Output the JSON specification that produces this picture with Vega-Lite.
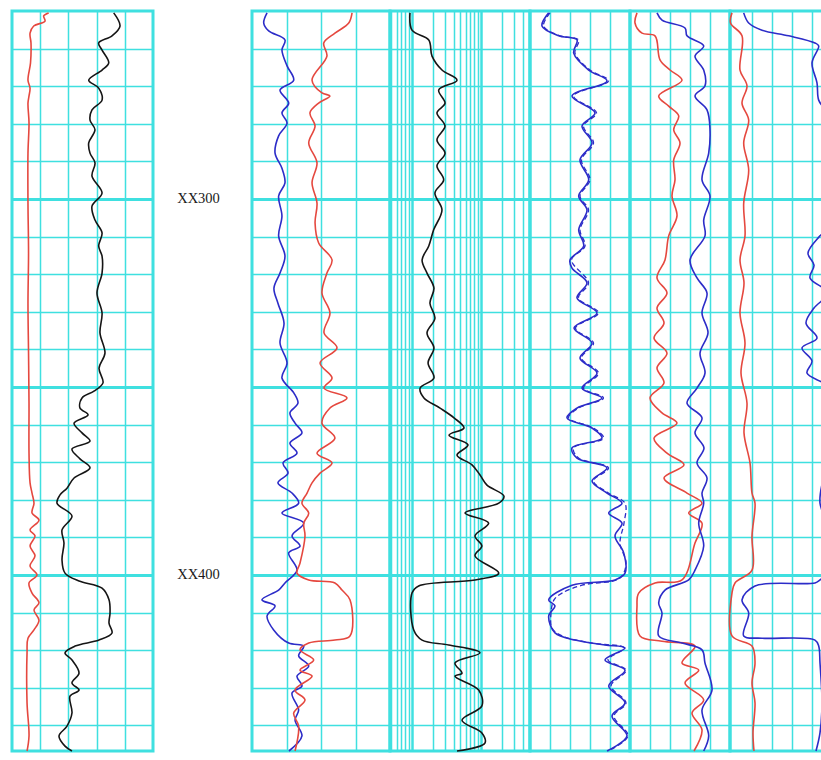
{
"$schema": "https://vega.github.io/schema/vega-lite/v6.json",
"padding": {"left": 10, "top": 8, "right": 0, "bottom": 0},
"bounds": "flush",
"background": "white",
"spacing": 0,
"config": {
  "view": {"stroke": "#3fe0e0", "strokeWidth": 3},
  "axis": {"labels": false, "ticks": false, "domain": false, "title": null, "grid": true, "gridColor": "#3fe0e0", "gridOpacity": 1, "minExtent": 0, "maxExtent": 0},
  "line": {"strokeWidth": 1.6, "interpolate": "catmull-rom", "clip": true},
  "concat": {"spacing": 0}
},
"datasets": {
  "labels": [{"d": 300, "t": "XX300"}, {"d": 400, "t": "XX400"}],
  "t1red": [{"d":250.5,"v":39.0},{"d":251.3,"v":33.7},{"d":252.7,"v":35.1},{"d":254.0,"v":23.1},{"d":255.9,"v":19.2},{"d":258.5,"v":20.2},{"d":263.8,"v":19.7},{"d":268.4,"v":17.0},{"d":270.5,"v":19.2},{"d":272.6,"v":18.1},{"d":274.5,"v":17.0},{"d":279.8,"v":18.1},{"d":287.8,"v":17.0},{"d":301.1,"v":17.0},{"d":314.4,"v":17.6},{"d":327.7,"v":17.0},{"d":341.0,"v":17.6},{"d":354.3,"v":18.1},{"d":367.6,"v":18.1},{"d":375.5,"v":19.2},{"d":378.2,"v":21.3},{"d":380.9,"v":23.4},{"d":383.5,"v":21.3},{"d":385.4,"v":28.7},{"d":388.0,"v":19.2},{"d":389.6,"v":24.5},{"d":392.3,"v":19.2},{"d":394.9,"v":24.5},{"d":397.6,"v":19.2},{"d":400.0,"v":26.6},{"d":402.1,"v":18.1},{"d":404.8,"v":21.3},{"d":407.4,"v":28.7},{"d":409.3,"v":23.4},{"d":412.0,"v":28.7},{"d":414.6,"v":23.4},{"d":416.8,"v":17.0},{"d":420.7,"v":16.0},{"d":434.0,"v":16.0},{"d":442.8,"v":18.1},{"d":446.8,"v":16.0}],
  "t1blk": [{"d":250.5,"v":108.2},{"d":254.0,"v":114.9},{"d":256.6,"v":106.4},{"d":258.5,"v":92.2},{"d":260.4,"v":95.8},{"d":263.8,"v":102.9},{"d":265.7,"v":95.8},{"d":268.4,"v":81.6},{"d":270.5,"v":92.2},{"d":273.7,"v":95.8},{"d":276.3,"v":85.1},{"d":279.0,"v":83.0},{"d":281.6,"v":88.3},{"d":285.1,"v":81.6},{"d":287.8,"v":83.0},{"d":290.4,"v":88.3},{"d":293.9,"v":85.1},{"d":298.4,"v":95.8},{"d":301.9,"v":85.1},{"d":305.6,"v":88.3},{"d":309.0,"v":95.8},{"d":312.5,"v":92.2},{"d":315.2,"v":95.8},{"d":319.7,"v":95.8},{"d":325.0,"v":90.4},{"d":330.3,"v":95.8},{"d":335.6,"v":93.6},{"d":341.0,"v":98.9},{"d":345.0,"v":92.6},{"d":348.9,"v":96.8},{"d":351.1,"v":87.2},{"d":352.9,"v":74.5},{"d":355.6,"v":72.3},{"d":357.4,"v":80.9},{"d":359.6,"v":66.0},{"d":362.2,"v":74.5},{"d":364.4,"v":83.0},{"d":366.5,"v":63.8},{"d":369.1,"v":72.3},{"d":371.5,"v":83.0},{"d":374.2,"v":66.0},{"d":376.9,"v":58.5},{"d":378.7,"v":51.1},{"d":380.9,"v":47.9},{"d":384.3,"v":63.8},{"d":388.0,"v":53.2},{"d":391.5,"v":55.3},{"d":396.0,"v":53.2},{"d":399.5,"v":56.4},{"d":401.6,"v":71.3},{"d":403.5,"v":95.8},{"d":406.6,"v":103.2},{"d":410.1,"v":104.3},{"d":412.8,"v":103.2},{"d":415.4,"v":106.4},{"d":417.3,"v":92.6},{"d":418.9,"v":67.0},{"d":420.7,"v":56.4},{"d":422.6,"v":63.8},{"d":426.1,"v":71.3},{"d":428.7,"v":63.8},{"d":430.6,"v":71.3},{"d":432.2,"v":61.7},{"d":436.7,"v":63.8},{"d":440.2,"v":58.5},{"d":442.8,"v":50.0},{"d":445.5,"v":56.4},{"d":446.8,"v":63.8}],
  "t2blu": [{"d":250.5,"v":10.9},{"d":253.2,"v":8.5},{"d":255.3,"v":12.1},{"d":257.7,"v":23.9},{"d":260.4,"v":21.7},{"d":264.6,"v":25.4},{"d":268.4,"v":30.2},{"d":271.0,"v":20.3},{"d":274.5,"v":26.6},{"d":277.1,"v":21.7},{"d":279.8,"v":25.4},{"d":283.2,"v":19.3},{"d":287.8,"v":16.7},{"d":291.8,"v":21.7},{"d":295.7,"v":23.9},{"d":299.2,"v":19.3},{"d":304.5,"v":21.7},{"d":309.8,"v":19.3},{"d":315.2,"v":23.9},{"d":319.7,"v":20.3},{"d":323.7,"v":15.9},{"d":327.7,"v":18.8},{"d":333.0,"v":23.2},{"d":338.3,"v":20.3},{"d":343.6,"v":25.4},{"d":347.6,"v":21.7},{"d":351.6,"v":30.4},{"d":354.3,"v":33.3},{"d":356.9,"v":27.5},{"d":359.6,"v":31.2},{"d":362.2,"v":36.2},{"d":364.9,"v":27.5},{"d":367.6,"v":32.6},{"d":370.2,"v":22.5},{"d":372.9,"v":26.1},{"d":375.5,"v":18.8},{"d":378.2,"v":29.0},{"d":380.9,"v":33.8},{"d":383.5,"v":21.7},{"d":386.2,"v":37.5},{"d":389.6,"v":29.0},{"d":392.3,"v":34.8},{"d":394.1,"v":26.6},{"d":398.7,"v":32.6},{"d":402.1,"v":23.9},{"d":404.0,"v":19.3},{"d":406.6,"v":7.2},{"d":408.2,"v":16.7},{"d":410.9,"v":10.9},{"d":414.6,"v":15.7},{"d":418.1,"v":26.6},{"d":418.9,"v":37.5},{"d":421.5,"v":33.8},{"d":424.2,"v":41.1},{"d":426.9,"v":32.6},{"d":429.5,"v":36.2},{"d":431.4,"v":29.0},{"d":435.9,"v":33.8},{"d":438.6,"v":31.2},{"d":442.8,"v":36.2},{"d":446.8,"v":26.8}],
  "t2red": [{"d":250.5,"v":72.5},{"d":253.2,"v":70.1},{"d":255.9,"v":60.1},{"d":258.5,"v":52.0},{"d":262.0,"v":54.3},{"d":268.4,"v":43.5},{"d":271.8,"v":50.7},{"d":272.6,"v":56.5},{"d":274.5,"v":48.3},{"d":277.1,"v":42.0},{"d":280.6,"v":45.7},{"d":285.1,"v":41.1},{"d":290.4,"v":47.1},{"d":295.7,"v":43.5},{"d":301.1,"v":47.1},{"d":306.4,"v":45.7},{"d":311.7,"v":48.3},{"d":316.2,"v":58.0},{"d":319.7,"v":54.3},{"d":325.0,"v":50.7},{"d":330.3,"v":56.5},{"d":335.6,"v":52.2},{"d":339.6,"v":61.6},{"d":343.6,"v":49.3},{"d":347.6,"v":58.0},{"d":350.3,"v":52.2},{"d":352.9,"v":68.8},{"d":355.6,"v":56.5},{"d":359.6,"v":50.7},{"d":363.6,"v":60.1},{"d":367.6,"v":47.1},{"d":370.2,"v":58.0},{"d":372.9,"v":49.3},{"d":375.5,"v":43.5},{"d":378.2,"v":39.9},{"d":380.9,"v":36.2},{"d":383.5,"v":41.1},{"d":386.2,"v":37.5},{"d":389.6,"v":38.4},{"d":396.8,"v":34.8},{"d":399.5,"v":32.6},{"d":401.3,"v":41.1},{"d":402.1,"v":60.1},{"d":404.0,"v":65.2},{"d":406.6,"v":71.0},{"d":416.2,"v":71.0},{"d":417.3,"v":60.1},{"d":418.1,"v":41.1},{"d":419.9,"v":34.8},{"d":422.6,"v":44.7},{"d":425.3,"v":34.8},{"d":426.9,"v":43.5},{"d":430.6,"v":31.2},{"d":433.2,"v":38.4},{"d":436.7,"v":30.2},{"d":440.2,"v":33.8},{"d":446.8,"v":31.2}],
  "t3blk": [{"d":250.5,"v":0.935},{"d":255.1,"v":1.0},{"d":257.7,"v":1.75},{"d":262.0,"v":1.95},{"d":265.7,"v":2.72},{"d":268.4,"v":4.49},{"d":271.0,"v":2.44},{"d":274.5,"v":3.01},{"d":277.1,"v":2.30},{"d":280.6,"v":3.01},{"d":284.3,"v":2.30},{"d":287.8,"v":3.01},{"d":291.2,"v":2.30},{"d":294.9,"v":2.88},{"d":298.4,"v":2.15},{"d":302.9,"v":2.72},{"d":308.2,"v":2.06},{"d":312.5,"v":1.75},{"d":316.2,"v":1.40},{"d":319.7,"v":1.65},{"d":323.7,"v":2.08},{"d":327.7,"v":1.82},{"d":331.7,"v":2.15},{"d":335.6,"v":1.65},{"d":339.6,"v":2.08},{"d":343.6,"v":1.71},{"d":347.6,"v":2.08},{"d":350.3,"v":1.31},{"d":352.9,"v":1.49},{"d":355.6,"v":2.55},{"d":358.2,"v":4.06},{"d":360.9,"v":5.67},{"d":362.8,"v":3.44},{"d":365.4,"v":6.48},{"d":368.1,"v":4.49},{"d":370.7,"v":7.41},{"d":373.4,"v":9.68},{"d":376.1,"v":12.2},{"d":379.0,"v":21.5},{"d":380.9,"v":18.1},{"d":383.5,"v":5.86},{"d":386.2,"v":12.9},{"d":389.6,"v":8.19},{"d":392.3,"v":10.3},{"d":394.9,"v":8.19},{"d":399.5,"v":18.1},{"d":401.3,"v":8.19},{"d":402.9,"v":1.25},{"d":404.8,"v":1.0},{"d":414.6,"v":1.06},{"d":417.3,"v":1.40},{"d":418.6,"v":3.40},{"d":420.7,"v":9.68},{"d":423.4,"v":4.20},{"d":426.1,"v":5.30},{"d":426.9,"v":4.20},{"d":430.6,"v":9.26},{"d":434.8,"v":10.3},{"d":438.6,"v":5.30},{"d":442.0,"v":10.3},{"d":444.7,"v":11.4},{"d":446.8,"v":4.49}],
  "t4blu": [{"d":250.5,"v":18.7},{"d":254.0,"v":12},{"d":256.6,"v":28.7},{"d":257.7,"v":47},{"d":261.2,"v":43.7},{"d":265.7,"v":58.7},{"d":268.6,"v":77},{"d":272.6,"v":42},{"d":277.1,"v":65},{"d":280.6,"v":52},{"d":285.1,"v":62},{"d":289.6,"v":50},{"d":294.9,"v":58.7},{"d":299.2,"v":48.7},{"d":302.9,"v":57},{"d":308.2,"v":48.7},{"d":312.5,"v":53.7},{"d":316.2,"v":40},{"d":318.4,"v":42},{"d":322.3,"v":57},{"d":326.3,"v":47},{"d":330.3,"v":67},{"d":334.3,"v":44},{"d":338.3,"v":62},{"d":342.3,"v":50},{"d":346.3,"v":67},{"d":350.3,"v":52},{"d":352.9,"v":72},{"d":355.6,"v":47},{"d":358.2,"v":37},{"d":360.9,"v":62},{"d":363.6,"v":72},{"d":366.2,"v":42},{"d":368.9,"v":47},{"d":371.5,"v":77},{"d":375.0,"v":62},{"d":378.2,"v":77},{"d":380.9,"v":92},{"d":383.5,"v":78.7},{"d":386.2,"v":92},{"d":389.6,"v":85},{"d":394.1,"v":93.7},{"d":399.5,"v":95},{"d":401.3,"v":85},{"d":402.7,"v":42},{"d":406.6,"v":18.7},{"d":408.2,"v":25},{"d":410.9,"v":18.7},{"d":415.4,"v":25},{"d":417.3,"v":45},{"d":418.6,"v":75},{"d":419.4,"v":95},{"d":422.6,"v":75},{"d":425.3,"v":95},{"d":429.5,"v":78.7},{"d":434.0,"v":95},{"d":437.5,"v":82},{"d":442.8,"v":97},{"d":446.8,"v":77}],
  "t4dsh": [{"d":250.5,"v":20},{"d":254.0,"v":13.5},{"d":256.6,"v":30},{"d":257.7,"v":48.5},{"d":261.2,"v":45},{"d":265.7,"v":60},{"d":268.6,"v":78.5},{"d":272.6,"v":43.5},{"d":277.1,"v":66.5},{"d":280.6,"v":53.5},{"d":285.1,"v":63.5},{"d":289.6,"v":51.5},{"d":294.9,"v":60},{"d":299.2,"v":50},{"d":302.9,"v":58.5},{"d":308.2,"v":50},{"d":312.5,"v":55},{"d":316.2,"v":41.5},{"d":322.3,"v":58.5},{"d":326.3,"v":48.5},{"d":330.3,"v":68.5},{"d":334.3,"v":45.5},{"d":338.3,"v":63.5},{"d":342.3,"v":51.5},{"d":346.3,"v":68.5},{"d":350.3,"v":53.5},{"d":352.9,"v":73.5},{"d":355.6,"v":48.5},{"d":358.2,"v":38.5},{"d":360.9,"v":63.5},{"d":363.6,"v":73.5},{"d":366.2,"v":43.5},{"d":368.9,"v":48.5},{"d":371.5,"v":78.5},{"d":375.0,"v":63.5},{"d":378.2,"v":78.5},{"d":380.9,"v":95},{"d":386.2,"v":94},{"d":391.5,"v":90},{"d":396.8,"v":96},{"d":400.8,"v":90},{"d":402.7,"v":52},{"d":404.8,"v":32},{"d":406.6,"v":24},{"d":410.1,"v":21},{"d":414.1,"v":22},{"d":416.2,"v":32},{"d":418.1,"v":62},{"d":419.4,"v":94},{"d":422.6,"v":78},{"d":425.3,"v":96},{"d":429.5,"v":81},{"d":434.0,"v":96},{"d":437.5,"v":84},{"d":442.8,"v":98},{"d":446.8,"v":78}],
  "t5red": [{"d":250.5,"v":7},{"d":253.2,"v":5},{"d":255.9,"v":12},{"d":256.6,"v":25},{"d":263.0,"v":30},{"d":265.7,"v":40},{"d":268.4,"v":52},{"d":272.6,"v":28.7},{"d":275.3,"v":38.7},{"d":277.9,"v":48.7},{"d":281.6,"v":43.7},{"d":285.1,"v":50},{"d":289.6,"v":43.7},{"d":294.9,"v":45},{"d":299.2,"v":42},{"d":304.5,"v":47},{"d":309.8,"v":38.7},{"d":316.2,"v":35},{"d":321.0,"v":27},{"d":325.0,"v":37},{"d":329.0,"v":27},{"d":333.0,"v":34},{"d":337.0,"v":24},{"d":341.0,"v":37},{"d":344.9,"v":27},{"d":348.9,"v":34},{"d":352.9,"v":20},{"d":356.9,"v":32},{"d":359.6,"v":47},{"d":363.6,"v":24},{"d":367.6,"v":37},{"d":370.7,"v":54},{"d":374.2,"v":34},{"d":378.2,"v":57},{"d":380.9,"v":72},{"d":383.5,"v":58.7},{"d":386.2,"v":72},{"d":391.5,"v":65},{"d":401.3,"v":52},{"d":402.1,"v":25},{"d":404.8,"v":8.7},{"d":408.2,"v":7},{"d":416.2,"v":10},{"d":417.6,"v":32},{"d":418.9,"v":65},{"d":423.4,"v":52},{"d":425.3,"v":68.7},{"d":428.7,"v":55},{"d":433.2,"v":73.7},{"d":436.7,"v":62},{"d":441.2,"v":72},{"d":446.8,"v":64}],
  "t5blu": [{"d":250.5,"v":27},{"d":252.4,"v":32},{"d":254.5,"v":55},{"d":256.6,"v":57},{"d":259.3,"v":73.7},{"d":262.0,"v":65},{"d":265.7,"v":73.7},{"d":269.9,"v":75},{"d":272.6,"v":65},{"d":276.3,"v":77},{"d":281.6,"v":80},{"d":287.8,"v":78.7},{"d":294.9,"v":72},{"d":299.2,"v":80},{"d":305.6,"v":73.7},{"d":309.8,"v":75},{"d":316.2,"v":60},{"d":321.0,"v":67},{"d":325.0,"v":77},{"d":330.3,"v":72},{"d":335.6,"v":78},{"d":341.0,"v":70},{"d":346.3,"v":75},{"d":350.3,"v":67},{"d":354.3,"v":57},{"d":358.2,"v":72},{"d":362.2,"v":65},{"d":366.2,"v":74},{"d":370.2,"v":67},{"d":374.2,"v":77},{"d":378.2,"v":72},{"d":380.9,"v":73.7},{"d":386.2,"v":68.7},{"d":392.3,"v":73.7},{"d":398.7,"v":65},{"d":401.3,"v":58.7},{"d":404.0,"v":35},{"d":407.4,"v":28.7},{"d":410.1,"v":32},{"d":416.2,"v":28.7},{"d":418.1,"v":52},{"d":419.9,"v":72},{"d":423.4,"v":75},{"d":430.6,"v":82},{"d":435.9,"v":72},{"d":442.8,"v":78.7},{"d":446.8,"v":73.7}],
  "t6red": [{"d":250.5,"v":2},{"d":253.2,"v":0.5},{"d":256.6,"v":12},{"d":265.7,"v":10},{"d":269.9,"v":17},{"d":274.5,"v":12},{"d":279.0,"v":18.7},{"d":285.1,"v":13.7},{"d":292.3,"v":18.7},{"d":301.1,"v":13.7},{"d":309.8,"v":15},{"d":316.2,"v":10},{"d":322.3,"v":14},{"d":330.3,"v":10},{"d":338.3,"v":15},{"d":346.3,"v":11},{"d":354.3,"v":17},{"d":362.2,"v":14},{"d":370.2,"v":20},{"d":378.2,"v":22},{"d":380.9,"v":25},{"d":389.6,"v":22},{"d":398.7,"v":22},{"d":402.1,"v":5},{"d":404.8,"v":2},{"d":416.2,"v":2},{"d":418.9,"v":22},{"d":423.4,"v":25},{"d":428.7,"v":22},{"d":434.0,"v":25},{"d":442.0,"v":23},{"d":446.8,"v":24}],
  "t6blu": [{"d":250.5,"v":13.7},{"d":253.2,"v":18.7},{"d":255.1,"v":32},{"d":256.6,"v":58.7},{"d":258.5,"v":85},{"d":259.3,"v":88.7},{"d":263.8,"v":82},{"d":269.1,"v":87},{"d":273.7,"v":88.7},{"d":277.1,"v":97},{"d":282.4,"v":102},{"d":290.4,"v":98},{"d":298.4,"v":94},{"d":306.4,"v":102},{"d":309.8,"v":90},{"d":314.4,"v":78},{"d":317.6,"v":84},{"d":321.0,"v":80},{"d":325.0,"v":98},{"d":329.0,"v":84},{"d":333.0,"v":76},{"d":337.0,"v":87},{"d":339.6,"v":72},{"d":343.1,"v":82},{"d":346.3,"v":77},{"d":350.3,"v":100},{"d":359.6,"v":104},{"d":370.2,"v":97},{"d":380.9,"v":90},{"d":388.8,"v":102},{"d":399.5,"v":98},{"d":401.3,"v":90},{"d":402.1,"v":85},{"d":402.9,"v":25},{"d":406.6,"v":12},{"d":410.1,"v":18.7},{"d":416.2,"v":13.7},{"d":416.8,"v":32},{"d":417.3,"v":85},{"d":418.9,"v":88.7},{"d":423.4,"v":90},{"d":434.0,"v":92},{"d":442.0,"v":90},{"d":446.8,"v":86}]
},
"hconcat": [
  {
    "width": 141, "height": 740,
    "encoding": {
      "x": {"field": "v", "type": "quantitative", "scale": {"domain": [0, 150], "nice": false, "zero": false}, "axis": {"values": [30, 60, 90, 120], "gridWidth": 1.5}},
      "y": {"field": "d", "type": "quantitative", "scale": {"domain": [250, 446.8], "reverse": true, "nice": false, "zero": false}, "axis": {"values": [260,270,280,290,300,310,320,330,340,350,360,370,380,390,400,410,420,430,440], "gridWidth": {"condition": {"test": "datum.value % 50 === 0", "value": 3}, "value": 1.5}}},
      "order": {"field": "d", "type": "quantitative"}
    },
    "layer": [
      {"data": {"name": "t1red"}, "mark": {"type": "line", "color": "#e5483f"}},
      {"data": {"name": "t1blk"}, "mark": {"type": "line", "color": "#151515"}}
    ]
  },
  {
    "width": 99, "height": 740,
    "view": {"stroke": null},
    "data": {"name": "labels"},
    "mark": {"type": "text", "font": "Liberation Serif", "fontSize": 14.5, "color": "#1a1a1a", "baseline": "middle", "dx": -4},
    "encoding": {
      "y": {"field": "d", "type": "quantitative", "scale": {"domain": [250, 446.8], "reverse": true, "nice": false, "zero": false}, "axis": null},
      "text": {"field": "t"}
    }
  },
  {
    "width": 138, "height": 740,
    "encoding": {
      "x": {"field": "v", "type": "quantitative", "scale": {"domain": [0, 100], "nice": false, "zero": false}, "axis": {"values": [25, 50, 75], "gridWidth": 1.5}},
      "y": {"field": "d", "type": "quantitative", "scale": {"domain": [250, 446.8], "reverse": true, "nice": false, "zero": false}, "axis": {"values": [260,270,280,290,300,310,320,330,340,350,360,370,380,390,400,410,420,430,440], "gridWidth": {"condition": {"test": "datum.value % 50 === 0", "value": 3}, "value": 1.5}}},
      "order": {"field": "d", "type": "quantitative"}
    },
    "layer": [
      {"data": {"name": "t2blu"}, "mark": {"type": "line", "color": "#2c2cc8"}},
      {"data": {"name": "t2red"}, "mark": {"type": "line", "color": "#e5483f"}}
    ]
  },
  {
    "width": 140, "height": 740,
    "encoding": {
      "x": {"field": "v", "type": "quantitative", "scale": {"type": "log", "domain": [0.48, 51.3], "nice": false}, "axis": {"values": [0.5,0.6,0.7,0.8,0.9,1,2,3,4,5,6,7,8,9,10,20,30,40,50], "gridWidth": {"condition": {"test": "datum.value === 1 || datum.value === 10", "value": 2.5}, "value": 1.5}}},
      "y": {"field": "d", "type": "quantitative", "scale": {"domain": [250, 446.8], "reverse": true, "nice": false, "zero": false}, "axis": {"values": [260,270,280,290,300,310,320,330,340,350,360,370,380,390,400,410,420,430,440], "gridWidth": {"condition": {"test": "datum.value % 50 === 0", "value": 3}, "value": 1.5}}},
      "order": {"field": "d", "type": "quantitative"}
    },
    "layer": [
      {"data": {"name": "t3blk"}, "mark": {"type": "line", "color": "#151515"}}
    ]
  },
  {
    "width": 100, "height": 740,
    "encoding": {
      "x": {"field": "v", "type": "quantitative", "scale": {"domain": [0, 100], "nice": false, "zero": false}, "axis": {"values": [20, 40, 60, 80], "gridWidth": 1.5}},
      "y": {"field": "d", "type": "quantitative", "scale": {"domain": [250, 446.8], "reverse": true, "nice": false, "zero": false}, "axis": {"values": [260,270,280,290,300,310,320,330,340,350,360,370,380,390,400,410,420,430,440], "gridWidth": {"condition": {"test": "datum.value % 50 === 0", "value": 3}, "value": 1.5}}},
      "order": {"field": "d", "type": "quantitative"}
    },
    "layer": [
      {"data": {"name": "t4dsh"}, "mark": {"type": "line", "color": "#2c2cc8", "strokeDash": [5, 3], "strokeWidth": 1.3}},
      {"data": {"name": "t4blu"}, "mark": {"type": "line", "color": "#2c2cc8"}}
    ]
  },
  {
    "width": 100, "height": 740,
    "encoding": {
      "x": {"field": "v", "type": "quantitative", "scale": {"domain": [0, 100], "nice": false, "zero": false}, "axis": {"values": [20, 40, 60, 80], "gridWidth": 1.5}},
      "y": {"field": "d", "type": "quantitative", "scale": {"domain": [250, 446.8], "reverse": true, "nice": false, "zero": false}, "axis": {"values": [260,270,280,290,300,310,320,330,340,350,360,370,380,390,400,410,420,430,440], "gridWidth": {"condition": {"test": "datum.value % 50 === 0", "value": 3}, "value": 1.5}}},
      "order": {"field": "d", "type": "quantitative"}
    },
    "layer": [
      {"data": {"name": "t5red"}, "mark": {"type": "line", "color": "#e5483f"}},
      {"data": {"name": "t5blu"}, "mark": {"type": "line", "color": "#2c2cc8"}}
    ]
  },
  {
    "width": 100, "height": 740,
    "encoding": {
      "x": {"field": "v", "type": "quantitative", "scale": {"domain": [0, 100], "nice": false, "zero": false}, "axis": {"values": [22, 42, 62, 82], "gridWidth": 1.5}},
      "y": {"field": "d", "type": "quantitative", "scale": {"domain": [250, 446.8], "reverse": true, "nice": false, "zero": false}, "axis": {"values": [260,270,280,290,300,310,320,330,340,350,360,370,380,390,400,410,420,430,440], "gridWidth": {"condition": {"test": "datum.value % 50 === 0", "value": 3}, "value": 1.5}}},
      "order": {"field": "d", "type": "quantitative"}
    },
    "layer": [
      {"data": {"name": "t6red"}, "mark": {"type": "line", "color": "#e5483f"}},
      {"data": {"name": "t6blu"}, "mark": {"type": "line", "color": "#2c2cc8"}}
    ]
  }
]
}
